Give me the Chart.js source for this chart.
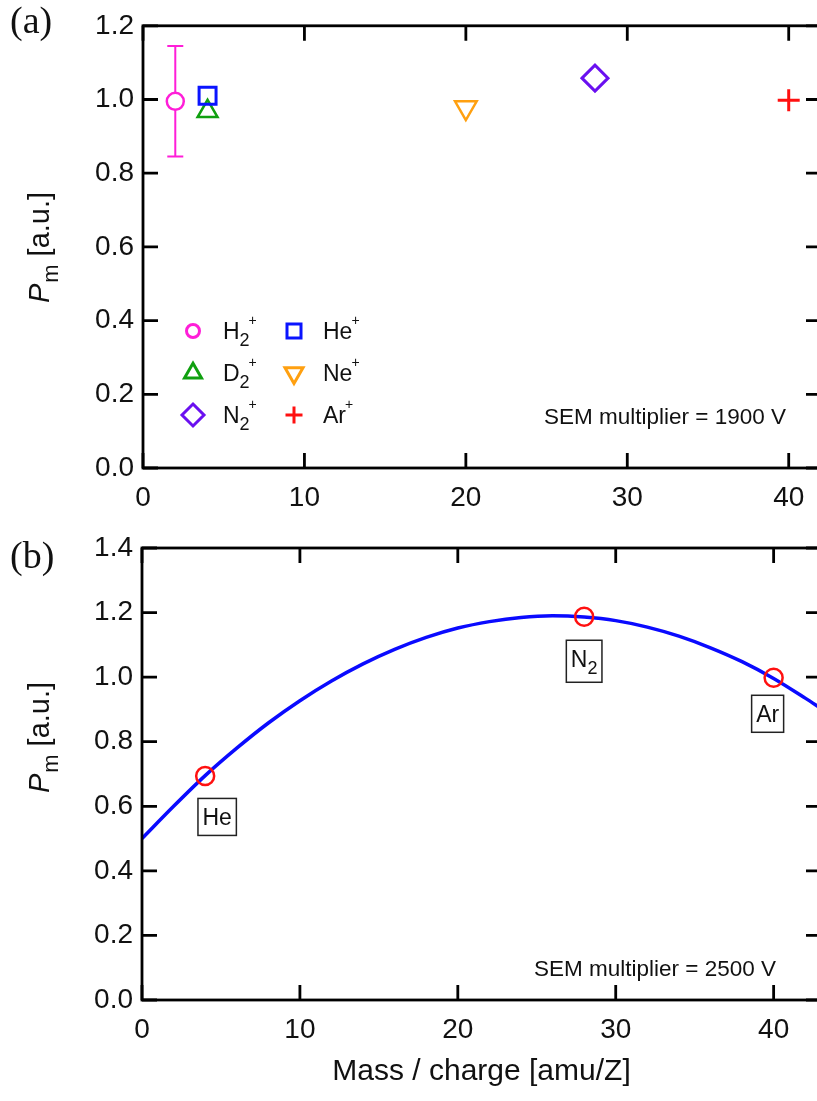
<!DOCTYPE html>
<html>
<head>
<meta charset="utf-8">
<script src="https://cdn.jsdelivr.net/npm/chart.js@4.4.0/dist/chart.umd.min.js"></script>
<style>
  html, body { margin: 0; padding: 0; background: #fff; overflow: hidden; width: 817px; height: 1101px; }
  .panel { position: absolute; left: 0; width: 840px; }
  #wrapA { top: 0; height: 520px; }
  #wrapB { top: 520px; height: 581px; }
</style>
</head>
<body>
<div class="panel" id="wrapA"><canvas id="chartA"></canvas></div>
<div class="panel" id="wrapB"><canvas id="chartB"></canvas></div>
<script>
// (a) relative P_m per ion, SEM multiplier 1900 V
var ionsA  = ['H2+', 'He+', 'D2+', 'Ne+', 'N2+', 'Ar+'];
var massA  = [2, 4, 4, 20, 28, 40];
var pmA    = [0.995, 1.010, 0.968, 0.978, 1.058, 0.998];
var pmErrA = [0.15, 0, 0, 0, 0, 0];

// (b) SEM multiplier 2500 V: measured points + fitted curve
var gasB  = ['He', 'N2', 'Ar'];
var massB = [4, 28, 40];
var pmB   = [0.694, 1.187, 0.998];
var fitMass = [0, 2, 4, 6, 8, 10, 12, 14, 16, 18, 20, 22, 24, 26, 28, 30, 32, 34, 36, 38, 40, 42, 43];
var fitPm   = [0.50, 0.60, 0.695, 0.78, 0.858, 0.927, 0.988, 1.041, 1.086, 1.123, 1.152, 1.172, 1.185,
               1.19, 1.186, 1.175, 1.155, 1.127, 1.091, 1.048, 0.996, 0.935, 0.903];

var xTicks  = [0, 10, 20, 30, 40];
var yTicksA = [0, 0.2, 0.4, 0.6, 0.8, 1.0, 1.2];
var yTicksB = [0, 0.2, 0.4, 0.6, 0.8, 1.0, 1.2, 1.4];

var SANS  = '"Liberation Sans", Arial, Helvetica, sans-serif';
var SERIF = '"Liberation Serif", "Times New Roman", serif';
var INK   = '#111';

Chart.defaults.font.family = SANS;
Chart.defaults.color = INK;

// marker look for each ion in (a)
var styleA = [
  { color: '#ff1ed8', shape: 'circle',   r: 8.5,  rot: 0,   lw: 2.5, lr: 6.5 },
  { color: '#0a14ff', shape: 'rect',     r: 12,   rot: 0,   lw: 3,   lr: 9.9 },
  { color: '#10a010', shape: 'triangle', r: 11.5, rot: 0,   lw: 2.5, lr: 9.8 },
  { color: '#ffa010', shape: 'triangle', r: 12.5, rot: 180, lw: 2.5, lr: 10.4 },
  { color: '#6a10f0', shape: 'rectRot',  r: 13,   rot: 0,   lw: 3,   lr: 11 },
  { color: '#ff1010', shape: 'cross',    r: 11,   rot: 0,   lw: 3,   lr: 8.5 }
];

function markerPath(ctx, shape, x, y, r, rot) {
  var rad = rot * Math.PI / 180;
  ctx.beginPath();
  if (shape === 'circle') {
    ctx.arc(x, y, r, 0, 2 * Math.PI);
  } else if (shape === 'rect') {
    var s = r * Math.SQRT1_2;
    ctx.rect(x - s, y - s, 2 * s, 2 * s);
  } else if (shape === 'rectRot') {
    ctx.moveTo(x, y - r); ctx.lineTo(x + r, y); ctx.lineTo(x, y + r); ctx.lineTo(x - r, y); ctx.closePath();
  } else if (shape === 'triangle') {
    for (var k = 0; k < 3; k++) {
      var a = rad + k * 2 * Math.PI / 3;
      if (k === 0) ctx.moveTo(x + Math.sin(a) * r, y - Math.cos(a) * r);
      else ctx.lineTo(x + Math.sin(a) * r, y - Math.cos(a) * r);
    }
    ctx.closePath();
  } else if (shape === 'cross') {
    ctx.moveTo(x - r, y); ctx.lineTo(x + r, y);
    ctx.moveTo(x, y - r); ctx.lineTo(x, y + r);
  }
}

// "N2+" -> N, subscript 2, superscript +
function richText(ctx, label, x, y, size, draw) {
  var cx = x;
  for (var i = 0; i < label.length; i++) {
    var ch = label[i];
    if (/[0-9]/.test(ch)) {
      ctx.font = Math.round(size * 0.8) + 'px ' + SANS;
      if (draw) ctx.fillText(ch, cx, y + size * 0.3);
      cx += ctx.measureText(ch).width;
    } else if (ch === '+') {
      ctx.font = Math.round(size * 0.62) + 'px ' + SANS;
      if (draw) ctx.fillText(ch, cx - 1, y - size * 0.6);
      cx += ctx.measureText(ch).width - 1;
    } else {
      ctx.font = size + 'px ' + SANS;
      if (draw) ctx.fillText(ch, cx, y);
      cx += ctx.measureText(ch).width;
    }
  }
  return cx - x;
}

// P_m [a.u.] turned on its side
function drawYTitle(ctx, cx, cy) {
  var size = 29;
  ctx.save();
  ctx.translate(cx, cy);
  ctx.rotate(-Math.PI / 2);
  ctx.fillStyle = INK;
  ctx.textBaseline = 'alphabetic';
  ctx.font = 'italic ' + size + 'px ' + SANS;
  var wP = ctx.measureText('P').width;
  ctx.font = Math.round(size * 0.75) + 'px ' + SANS;
  var wM = ctx.measureText('m').width;
  ctx.font = size + 'px ' + SANS;
  var wR = ctx.measureText(' [a.u.]').width;
  var x = -(wP + wM + wR) / 2;
  ctx.font = 'italic ' + size + 'px ' + SANS;
  ctx.fillText('P', x, 0);
  ctx.font = Math.round(size * 0.75) + 'px ' + SANS;
  ctx.fillText('m', x + wP + 1, size * 0.3);
  ctx.font = size + 'px ' + SANS;
  ctx.fillText(' [a.u.]', x + wP + wM + 1, 0);
  ctx.restore();
}

// box frame with inward ticks on all four sides
var framePlugin = {
  id: 'frame',
  afterDraw: function (chart) {
    var ctx = chart.ctx, a = chart.chartArea, sx = chart.scales.x, sy = chart.scales.y;
    var len = 15;
    ctx.save();
    ctx.strokeStyle = '#000';
    ctx.lineWidth = 2.8;
    ctx.beginPath();
    sx.ticks.forEach(function (t) {
      var px = sx.getPixelForValue(t.value);
      ctx.moveTo(px, a.bottom); ctx.lineTo(px, a.bottom - len);
      ctx.moveTo(px, a.top); ctx.lineTo(px, a.top + len);
    });
    sy.ticks.forEach(function (t) {
      var py = sy.getPixelForValue(t.value);
      ctx.moveTo(a.left, py); ctx.lineTo(a.left + len, py);
      ctx.moveTo(a.right, py); ctx.lineTo(a.right - len, py);
    });
    ctx.stroke();
    ctx.strokeRect(a.left, a.top, a.right - a.left, a.bottom - a.top);
    ctx.restore();
  }
};

var errorBarPlugin = {
  id: 'errorBars',
  afterDatasetsDraw: function (chart) {
    var ctx = chart.ctx, sx = chart.scales.x, sy = chart.scales.y;
    ctx.save();
    for (var i = 0; i < ionsA.length; i++) {
      if (!pmErrA[i]) continue;
      var px = sx.getPixelForValue(massA[i]);
      var top = sy.getPixelForValue(pmA[i] + pmErrA[i]);
      var bot = sy.getPixelForValue(pmA[i] - pmErrA[i]);
      var mid = sy.getPixelForValue(pmA[i]);
      var cap = 8;
      ctx.strokeStyle = styleA[i].color;
      ctx.lineWidth = 2;
      ctx.beginPath();
      ctx.moveTo(px, top); ctx.lineTo(px, mid - styleA[i].r);
      ctx.moveTo(px, mid + styleA[i].r); ctx.lineTo(px, bot);
      ctx.moveTo(px - cap, top); ctx.lineTo(px + cap, top);
      ctx.moveTo(px - cap, bot); ctx.lineTo(px + cap, bot);
      ctx.stroke();
    }
    ctx.restore();
  }
};

var decorA = {
  id: 'decorA',
  afterDraw: function (chart) {
    var ctx = chart.ctx;
    ctx.save();
    // legend, two columns x three rows
    for (var i = 0; i < ionsA.length; i++) {
      var col = i % 2, row = Math.floor(i / 2);
      var mx = 193 + col * 101, my = 331 + row * 42;
      var st = styleA[i];
      ctx.strokeStyle = st.color;
      ctx.lineWidth = 3;
      markerPath(ctx, st.shape, mx, my, st.lr, st.rot);
      ctx.stroke();
      ctx.fillStyle = INK;
      ctx.textBaseline = 'alphabetic';
      richText(ctx, ionsA[i], 223 + col * 100, my + 8, 23, true);
    }
    ctx.fillStyle = INK;
    ctx.font = '22.5px ' + SANS;
    ctx.textAlign = 'right';
    ctx.fillText('SEM multiplier = 1900 V', 786, 424);
    ctx.textAlign = 'left';
    ctx.font = '38px ' + SERIF;
    ctx.fillText('(a)', 10, 33);
    drawYTitle(ctx, 49, 248);
    ctx.restore();
  }
};

var decorB = {
  id: 'decorB',
  afterDraw: function (chart) {
    var ctx = chart.ctx, sx = chart.scales.x, sy = chart.scales.y;
    var offs = [[12, 41], [0, 42], [-6, 36]];
    ctx.save();
    ctx.textBaseline = 'alphabetic';
    for (var i = 0; i < gasB.length; i++) {
      var cx = sx.getPixelForValue(massB[i]) + offs[i][0];
      var cy = sy.getPixelForValue(pmB[i]) + offs[i][1];
      var w = richText(ctx, gasB[i], 0, 0, 23, false);
      var hasSub = /[0-9]/.test(gasB[i]);
      var bw = w + 9, bh = 37;
      ctx.fillStyle = '#fff';
      ctx.strokeStyle = '#222';
      ctx.lineWidth = 1.5;
      ctx.fillRect(cx - bw / 2, cy - bh / 2, bw, bh + (hasSub ? 5 : 0));
      ctx.strokeRect(cx - bw / 2, cy - bh / 2, bw, bh + (hasSub ? 5 : 0));
      ctx.fillStyle = INK;
      richText(ctx, gasB[i], cx - w / 2, cy + 8, 23, true);
    }
    ctx.font = '22.5px ' + SANS;
    ctx.textAlign = 'right';
    ctx.fillText('SEM multiplier = 2500 V', 776, 456);
    ctx.textAlign = 'center';
    ctx.font = '30px ' + SANS;
    var a = chart.chartArea;
    ctx.fillText('Mass / charge [amu/Z]', (a.left + a.right) / 2, 560);
    ctx.textAlign = 'left';
    ctx.font = '38px ' + SERIF;
    ctx.fillText('(b)', 10, 48);
    drawYTitle(ctx, 49, 218);
    ctx.restore();
  }
};

function axes(xMax, yMax, yTicks, yWidth) {
  return {
    x: {
      type: 'linear', min: 0, max: xMax,
      afterBuildTicks: function (s) { s.ticks = xTicks.map(function (v) { return { value: v }; }); },
      afterFit: function (s) { s.height = 40; },
      grid: { display: false, drawTicks: false },
      border: { display: false },
      ticks: { padding: 13, font: { size: 28 }, color: INK, maxRotation: 0 }
    },
    y: {
      type: 'linear', min: 0, max: yMax,
      afterBuildTicks: function (s) { s.ticks = yTicks.map(function (v) { return { value: v }; }); },
      afterFit: function (s) { s.width = yWidth; },
      grid: { display: false, drawTicks: false },
      border: { display: false },
      ticks: { padding: 9, font: { size: 28 }, color: INK, callback: function (v) { return v.toFixed(1); } }
    }
  };
}

var chartA = new Chart(document.getElementById('chartA'), {
  type: 'scatter',
  data: {
    datasets: ionsA.map(function (ion, i) {
      return {
        label: ion,
        data: [{ x: massA[i], y: pmA[i] }],
        pointStyle: styleA[i].shape,
        pointRadius: styleA[i].r,
        pointHoverRadius: styleA[i].r,
        pointRotation: styleA[i].rot,
        pointBorderWidth: styleA[i].lw,
        borderColor: styleA[i].color,
        backgroundColor: 'rgba(0,0,0,0)'
      };
    })
  },
  options: {
    responsive: true,
    maintainAspectRatio: false,
    animation: false,
    layout: { padding: { left: 0, top: 14, right: 19, bottom: 12 } },
    plugins: { legend: { display: false }, tooltip: { enabled: false } },
    scales: axes(42, 1.2, yTicksA, 143)
  },
  plugins: [framePlugin, errorBarPlugin, decorA]
});

var chartB = new Chart(document.getElementById('chartB'), {
  type: 'scatter',
  data: {
    datasets: [{
      label: 'measured',
      data: massB.map(function (m, i) { return { x: m, y: pmB[i] }; }),
      pointStyle: 'circle',
      pointRadius: 9,
      pointHoverRadius: 9,
      pointBorderWidth: 2.5,
      borderColor: '#ff1010',
      backgroundColor: 'rgba(0,0,0,0)'
    }, {
      label: 'fit',
      data: fitMass.map(function (m, i) { return { x: m, y: fitPm[i] }; }),
      showLine: true,
      pointRadius: 0,
      borderColor: '#0a0aff',
      borderWidth: 3.5,
      cubicInterpolationMode: 'monotone',
      fill: false
    }]
  },
  options: {
    responsive: true,
    maintainAspectRatio: false,
    animation: false,
    layout: { padding: { left: 0, top: 28, right: 19, bottom: 61 } },
    plugins: { legend: { display: false }, tooltip: { enabled: false } },
    scales: axes(43, 1.4, yTicksB, 142)
  },
  plugins: [framePlugin, decorB]
});
</script>
</body>
</html>
